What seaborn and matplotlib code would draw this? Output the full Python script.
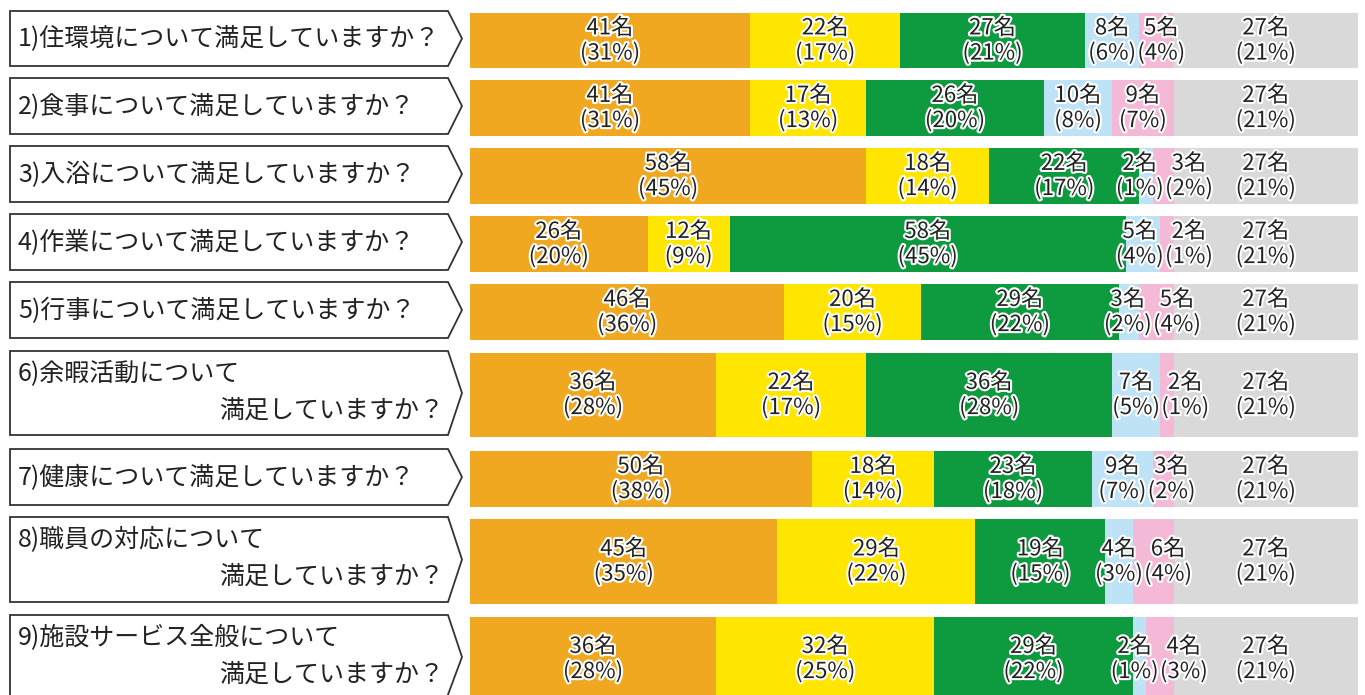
import matplotlib
matplotlib.use("Agg")
import matplotlib.pyplot as plt
import matplotlib.patheffects as pe
from matplotlib.patches import Polygon
import numpy as np
import seaborn as sns

sns.set_theme(style="white")
plt.rcParams['font.family'] = ['Noto Sans CJK JP', 'DejaVu Sans']

# ---- data ----
questions = [
    "1)住環境について満足していますか？",
    "2)食事について満足していますか？",
    "3)入浴について満足していますか？",
    "4)作業について満足していますか？",
    "5)行事について満足していますか？",
    "6)余暇活動について\n満足していますか？",
    "7)健康について満足していますか？",
    "8)職員の対応について\n満足していますか？",
    "9)施設サービス全般について\n満足していますか？",
]
counts_orange = [41, 41, 58, 26, 46, 36, 50, 45, 36]
counts_yellow = [22, 17, 18, 12, 20, 22, 18, 29, 32]
counts_green  = [27, 26, 22, 58, 29, 36, 23, 19, 29]
counts_blue   = [8, 10, 2, 5, 3, 7, 9, 4, 2]
counts_pink   = [5, 9, 3, 2, 5, 2, 3, 6, 4]
counts_gray   = [27, 27, 27, 27, 27, 27, 27, 27, 27]
pct_orange = [31, 31, 45, 20, 36, 28, 38, 35, 28]
pct_yellow = [17, 13, 14, 9, 15, 17, 14, 22, 25]
pct_green  = [21, 20, 17, 45, 22, 28, 18, 15, 22]
pct_blue   = [6, 8, 1, 4, 2, 5, 7, 3, 1]
pct_pink   = [4, 7, 2, 1, 4, 1, 2, 4, 3]
pct_gray   = [21, 21, 21, 21, 21, 21, 21, 21, 21]

# ---- layout (pixels, top/bottom of each row) ----
row_top = [13, 80, 148, 216, 284, 353, 451, 519, 617]
row_bot = [68, 136, 204, 272, 340, 437, 507, 604, 700]
colors = ["#EFA820", "#FFE600", "#0E9A3E", "#BFE3F6", "#F3B9D6", "#D9D9D9"]

W, H = 1365, 695
fig = plt.figure(figsize=(W / 100, H / 100), dpi=100)
fig.patch.set_facecolor("white")

ax_lab = fig.add_axes([0, 0, 470 / W, 1])
ax_lab.set_xlim(0, 470)
ax_lab.set_ylim(H, 0)
ax_lab.axis("off")

ax = fig.add_axes([470 / W, 0, 888 / W, 1])
ax.set_xlim(0, 130)
ax.set_ylim(H, 0)
ax.axis("off")

series_counts = [counts_orange, counts_yellow, counts_green, counts_blue, counts_pink, counts_gray]
series_pct = [pct_orange, pct_yellow, pct_green, pct_blue, pct_pink, pct_gray]

centers = [(t + b) / 2 for t, b in zip(row_top, row_bot)]
heights = [b - t for t, b in zip(row_top, row_bot)]
centers[-1] = (row_top[-1] + 695) / 2 + 3

left = np.zeros(len(questions))
seg_centers = []
for cnt, col in zip(series_counts, colors):
    cnt = np.array(cnt, dtype=float)
    ax.barh([(t + b) / 2 for t, b in zip(row_top, row_bot)], cnt, left=left,
            height=heights, color=col, edgecolor="none")
    seg_centers.append(left + cnt / 2)
    left = left + cnt

stroke = [pe.withStroke(linewidth=3, foreground="white")]
txtcol = "#222222"
fs = 16
for i in range(len(questions)):
    xs = [seg_centers[k][i] for k in range(6)]
    cb, cp = xs[3], xs[4]
    mid = (cb + cp) / 2
    bx = min(cb, mid - 2.2)
    px = max(cp, bx + 7.2)
    xs[3], xs[4] = bx, px
    for k in range(6):
        ax.text(xs[k], centers[i], f"{series_counts[k][i]}名\n({series_pct[k][i]}%)",
                ha="center", va="center", fontsize=fs, color=txtcol,
                linespacing=1.08, path_effects=stroke)

# ---- left arrow boxes ----
lab_fs = 18
for i, q in enumerate(questions):
    t = row_top[i] - 2
    b = row_bot[i] - 2
    x0, x1, xt = 10, 448, 462
    if i == len(questions) - 1:
        tip_y = t + 42
        poly = Polygon([[x0, H + 5], [x0, t], [x1, t], [xt, tip_y], [x1 - 2, H + 5]],
                       closed=False, fill=False, edgecolor="#333333", lw=1.3)
    else:
        tip_y = (t + b) / 2
        poly = Polygon([[x0, t], [x1, t], [xt, tip_y], [x1, b], [x0, b]],
                       closed=True, fill=False, edgecolor="#333333", lw=1.3)
    ax_lab.add_patch(poly)
    lines = q.split("\n")
    if len(lines) == 1:
        ax_lab.text(18, tip_y + 1, lines[0], ha="left", va="center",
                    fontsize=lab_fs, color="#222222")
    else:
        ax_lab.text(18, t + 23, lines[0], ha="left", va="center",
                    fontsize=lab_fs, color="#222222")
        ax_lab.text(444, t + 60, lines[1], ha="right", va="center",
                    fontsize=lab_fs, color="#222222")

fig.savefig("out.png", dpi=100, facecolor="white")
